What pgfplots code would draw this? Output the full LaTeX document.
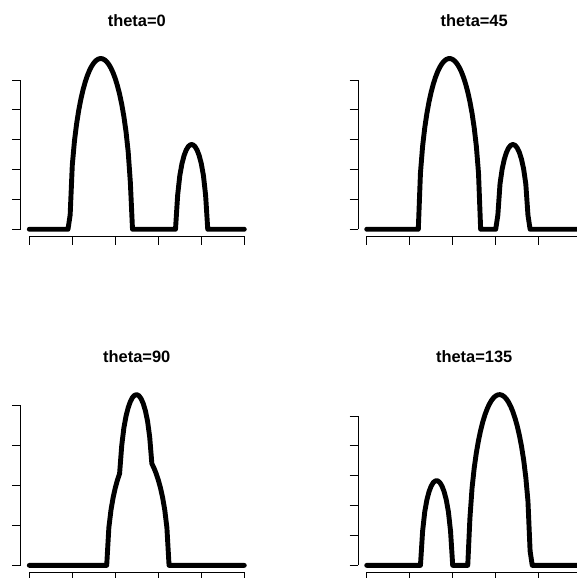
\documentclass[border=0pt]{standalone}
\usepackage{pgfplots}
\pgfplotsset{compat=1.18}
\usepackage{fontspec}
\setmainfont{Liberation Sans}

% one panel of the 2x2 grid of projections
\pgfplotsset{
  panel/.style={
    scale only axis, width=232.2bp, height=184.4bp, anchor=south west,
    xmin=-4, xmax=104,
    axis x line*=bottom, axis y line*=left, axis line style={draw=none},
    tick align=outside, major tick length=8.5bp,
    tick style={black, line width=0.9bp},
    xtick={0,20,...,100}, xticklabels={}, yticklabels={},
    clip=false,
    title style={at={(0.5,1)}, anchor=base, yshift=19bp,
      font=\bfseries\fontsize{16.5}{20}\selectfont},
  },
}
\tikzset{
  proj/.style={black, line width=4.9bp, line cap=round, line join=round},
  axframe/.style={black, line width=0.9bp},
}

\begin{document}
\begin{tikzpicture}
\path[use as bounding box] (0,0) rectangle (577bp,578bp);
\clip (0,0) rectangle (577bp,578bp);

% theta = 0
\begin{axis}[panel, at={(20.7bp,341.9bp)}, title={theta=0},
  ymin=-2.29, ymax=59.48, ytick={0,10,...,50}]
\addplot[proj] coordinates {
(0,0) (18,0) (19,4.78) (20,21.51) (21,29.51) (22,35.31) (23,39.89) (24,43.62)
(25,46.72) (26,49.30) (27,51.45) (28,53.21) (29,54.62) (30,55.70) (31,56.49)
(32,56.98) (33,57.19) (34,57.12) (35,56.77) (36,56.13) (37,55.20) (38,53.95)
(39,52.37) (40,50.43) (41,48.07) (42,45.24) (43,41.84) (44,37.72) (45,32.60)
(46,25.90) (47,15.71) (48,0) (68,0) (69,11.43) (70,17.96) (71,21.97) (72,24.71)
(73,26.58) (74,27.76) (75,28.33) (76,28.33) (77,27.76) (78,26.58) (79,24.71)
(80,21.97) (81,17.96) (82,11.43) (83,0) (100,0)};
\draw[axframe] (axis cs:0,-2.29) -- (axis cs:100,-2.29);
\draw[axframe] (axis cs:-4,0) -- (axis cs:-4,50);
\end{axis}

% theta = 45
\begin{axis}[panel, at={(358.1bp,341.9bp)}, title={theta=45},
  ymin=-2.29, ymax=59.48, ytick={0,10,...,50}]
\addplot[proj] coordinates {
(0,0) (24,0) (25,18.86) (26,27.78) (27,34.00) (28,38.83) (29,42.75) (30,46.00)
(31,48.70) (32,50.95) (33,52.80) (34,54.29) (35,55.46) (36,56.32) (37,56.88)
(38,57.17) (39,57.17) (40,56.88) (41,56.32) (42,55.46) (43,54.29) (44,52.80)
(45,50.95) (46,48.70) (47,46.00) (48,42.75) (49,38.83) (50,34.00) (51,27.78)
(52,18.86) (53,0) (60,0) (61,4.75) (62,15.18) (63,20.16) (64,23.46) (65,25.74)
(66,27.25) (67,28.12) (68,28.40) (69,28.12) (70,27.25) (71,25.74) (72,23.46)
(73,20.16) (74,15.18) (75,4.75) (76,0) (100,0)};
\draw[axframe] (axis cs:0,-2.29) -- (axis cs:100,-2.29);
\draw[axframe] (axis cs:-4,0) -- (axis cs:-4,50);
\end{axis}

% theta = 90
\begin{axis}[panel, at={(20.7bp,5.8bp)}, title={theta=90},
  ymin=-3.42, ymax=88.92, ytick={0,20,...,80}]
\addplot[proj] coordinates {
(0,0) (36,0) (37,18.86) (38,27.78) (39,34.00) (40,38.83) (41,42.75) (42,46.00)
(43,60.13) (44,68.91) (45,74.77) (46,79.00) (47,82.04) (48,84.08) (49,85.21)
(50,85.50) (51,84.93) (52,83.46) (53,81.03) (54,77.43) (55,72.25) (56,64.23)
(57,50.95) (58,48.70) (59,46.00) (60,42.75) (61,38.83) (62,34.00) (63,27.78)
(64,18.86) (65,0) (100,0)};
\draw[axframe] (axis cs:0,-3.42) -- (axis cs:100,-3.42);
\draw[axframe] (axis cs:-4,0) -- (axis cs:-4,80);
\end{axis}

% theta = 135
\begin{axis}[panel, at={(358.1bp,5.8bp)}, title={theta=135},
  ymin=-2.29, ymax=59.48, ytick={0,10,...,50}]
\addplot[proj] coordinates {
(0,0) (25,0) (26,11.43) (27,17.96) (28,21.97) (29,24.71) (30,26.58) (31,27.76)
(32,28.33) (33,28.33) (34,27.76) (35,26.58) (36,24.71) (37,21.97) (38,17.96)
(39,11.43) (40,0) (47,0) (48,15.71) (49,25.90) (50,32.60) (51,37.72) (52,41.84)
(53,45.24) (54,48.07) (55,50.43) (56,52.37) (57,53.95) (58,55.20) (59,56.13)
(60,56.77) (61,57.12) (62,57.19) (63,56.98) (64,56.49) (65,55.70) (66,54.62)
(67,53.21) (68,51.45) (69,49.30) (70,46.72) (71,43.62) (72,39.89) (73,35.31)
(74,29.51) (75,21.51) (76,4.78) (77,0) (100,0)};
\draw[axframe] (axis cs:0,-2.29) -- (axis cs:100,-2.29);
\draw[axframe] (axis cs:-4,0) -- (axis cs:-4,50);
\end{axis}
\end{tikzpicture}
\end{document}
